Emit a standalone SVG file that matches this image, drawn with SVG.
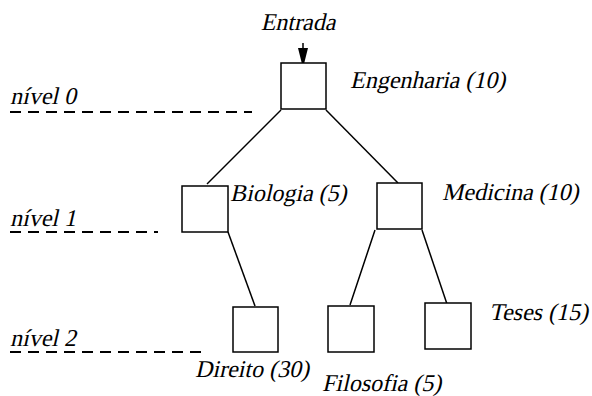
<svg xmlns="http://www.w3.org/2000/svg" width="592" height="396" viewBox="0 0 592 396">
<style>
text{font-family:'Liberation Serif','Times New Roman',Times,serif;font-style:normal;font-weight:normal;font-size:24px;fill:#000}
.box{fill:#fff;stroke:#000;stroke-width:1.5}
.edge{stroke:#000;stroke-width:1.5;fill:none}
.lvl{stroke:#000;stroke-width:2;stroke-dasharray:11,7;fill:none}
</style>
<g id="levels">
<text transform="translate(10,104) skewX(-13)">nível 0</text>
<line class="lvl" x1="10" y1="112" x2="252" y2="112"/>
<text transform="translate(10,226) skewX(-13)">nível 1</text>
<line class="lvl" x1="10" y1="232" x2="158" y2="232"/>
<text transform="translate(10,346) skewX(-13)">nível 2</text>
<line class="lvl" x1="10" y1="352" x2="205" y2="352"/>
</g>
<g id="connectors">
<line class="edge" x1="303" y1="43" x2="303" y2="50" stroke-width="2.5"/>
<polygon points="298,48 308,48 303,68" fill="#000"/>
<line class="edge" x1="281" y1="110" x2="207" y2="184"/>
<line class="edge" x1="326" y1="110" x2="398" y2="183"/>
<line class="edge" x1="228" y1="232" x2="255" y2="306"/>
<line class="edge" x1="375" y1="230" x2="350" y2="305"/>
<line class="edge" x1="422" y1="230" x2="447" y2="304"/>
</g>
<g id="entrada"><text transform="translate(298,30) skewX(-13)" text-anchor="middle">Entrada</text></g>
<g id="engenharia"><rect class="box" x="281" y="63" width="45" height="46"/><text transform="translate(350,88) skewX(-13)">Engenharia (10)</text></g>
<g id="biologia"><rect class="box" x="182" y="186" width="46" height="46"/><text transform="translate(230,201) skewX(-13)">Biologia (5)</text></g>
<g id="medicina"><rect class="box" x="377" y="183" width="45" height="46"/><text transform="translate(442,200) skewX(-13)">Medicina (10)</text></g>
<g id="direito"><rect class="box" x="233" y="307" width="45" height="45"/><text transform="translate(195,377) skewX(-13)">Direito (30)</text></g>
<g id="filosofia"><rect class="box" x="328" y="306" width="46" height="46"/><text transform="translate(322,391) skewX(-13)">Filosofia (5)</text></g>
<g id="teses"><rect class="box" x="425" y="303" width="46" height="46"/><text transform="translate(489,320) skewX(-13)">Teses (15)</text></g>
</svg>
